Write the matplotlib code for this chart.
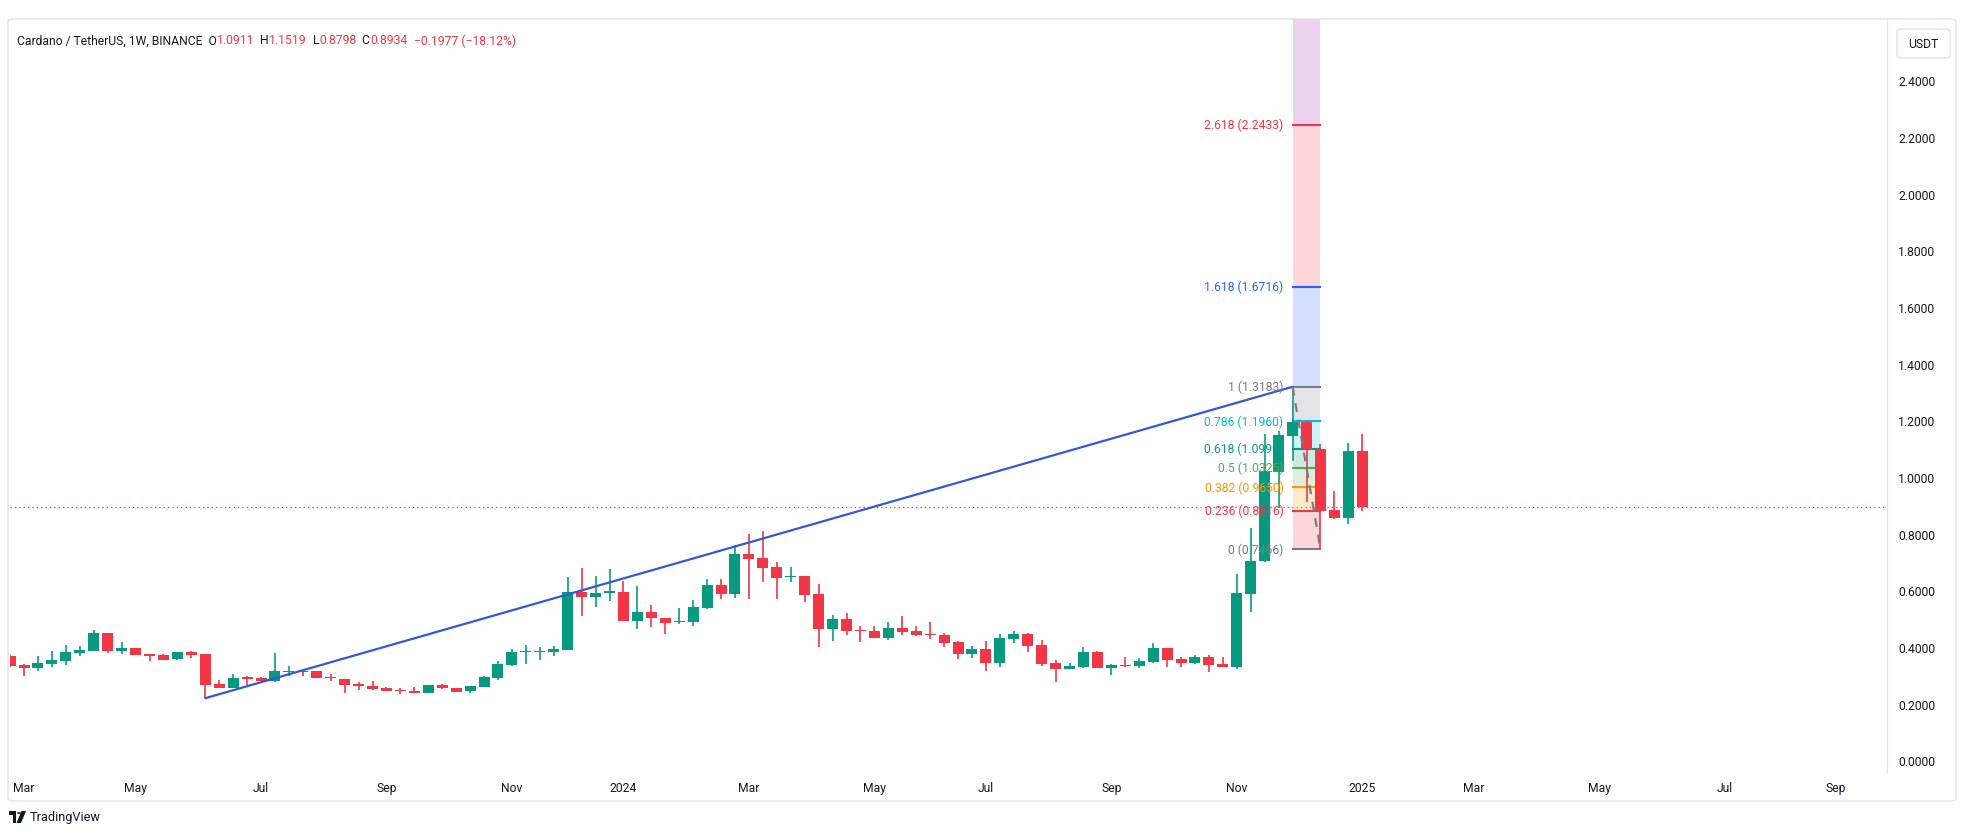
import numpy as np
import pandas as pd
import matplotlib
matplotlib.use('Agg')
import matplotlib.pyplot as plt
import matplotlib.dates as mdates
from matplotlib.patches import Rectangle, FancyBboxPatch, Polygon, Circle

# ADA/USDT weekly candles (Binance), first bar = week of 2023-02-27
week_start = '2023-02-27'
opens = [0.367, 0.337, 0.327, 0.341, 0.352, 0.380, 0.387, 0.450, 0.387, 0.396,
         0.375, 0.372, 0.357, 0.381, 0.375, 0.270, 0.257, 0.294, 0.292, 0.281,
         0.311, 0.317, 0.316, 0.292, 0.287, 0.271, 0.262, 0.255, 0.247, 0.245,
         0.239, 0.267, 0.255, 0.246, 0.260, 0.292, 0.338, 0.381, 0.382, 0.384,
         0.391, 0.594, 0.578, 0.592, 0.594, 0.493, 0.523, 0.502, 0.488, 0.489,
         0.539, 0.619, 0.588, 0.728, 0.714, 0.682, 0.647, 0.651, 0.587, 0.465,
         0.499, 0.460, 0.456, 0.432, 0.467, 0.457, 0.447, 0.443, 0.418, 0.377,
         0.393, 0.345, 0.428, 0.446, 0.407, 0.344, 0.323, 0.330, 0.384, 0.326,
         0.338, 0.334, 0.347, 0.397, 0.358, 0.344, 0.365, 0.340, 0.331, 0.588,
         0.703, 1.019, 1.146, 1.195, 1.099, 0.884, 0.856, 1.0911]
highs = [0.372, 0.340, 0.367, 0.385, 0.406, 0.403, 0.459, 0.450, 0.417, 0.398,
         0.377, 0.375, 0.382, 0.386, 0.377, 0.285, 0.305, 0.297, 0.296, 0.379,
         0.332, 0.318, 0.317, 0.304, 0.288, 0.276, 0.279, 0.258, 0.257, 0.259,
         0.267, 0.271, 0.257, 0.264, 0.298, 0.350, 0.392, 0.407, 0.401, 0.405,
         0.647, 0.679, 0.650, 0.675, 0.634, 0.614, 0.548, 0.503, 0.538, 0.566,
         0.640, 0.640, 0.761, 0.799, 0.809, 0.700, 0.681, 0.652, 0.622, 0.513,
         0.520, 0.475, 0.474, 0.488, 0.510, 0.474, 0.488, 0.449, 0.421, 0.405,
         0.421, 0.446, 0.458, 0.450, 0.425, 0.354, 0.343, 0.400, 0.387, 0.340,
         0.365, 0.361, 0.414, 0.397, 0.366, 0.372, 0.372, 0.365, 0.658, 0.819,
         1.151, 1.162, 1.3183, 1.196, 1.117, 0.950, 1.119, 1.1519]
lows = [0.330, 0.299, 0.317, 0.331, 0.338, 0.369, 0.385, 0.380, 0.375, 0.371,
        0.350, 0.354, 0.356, 0.362, 0.221, 0.254, 0.254, 0.266, 0.279, 0.278,
        0.299, 0.299, 0.289, 0.281, 0.239, 0.250, 0.250, 0.244, 0.235, 0.238,
        0.238, 0.252, 0.242, 0.239, 0.259, 0.285, 0.334, 0.340, 0.355, 0.369,
        0.390, 0.511, 0.542, 0.562, 0.491, 0.465, 0.472, 0.447, 0.482, 0.473,
        0.533, 0.568, 0.573, 0.571, 0.630, 0.571, 0.631, 0.560, 0.401, 0.422,
        0.444, 0.419, 0.432, 0.426, 0.444, 0.439, 0.427, 0.401, 0.359, 0.361,
        0.317, 0.331, 0.415, 0.383, 0.334, 0.278, 0.321, 0.327, 0.325, 0.301,
        0.331, 0.327, 0.344, 0.331, 0.331, 0.341, 0.313, 0.330, 0.321, 0.523,
        0.700, 0.891, 1.058, 0.911, 0.7466, 0.851, 0.833, 0.8798]
closes = [0.334, 0.327, 0.344, 0.355, 0.383, 0.391, 0.450, 0.387, 0.398, 0.373,
          0.369, 0.355, 0.381, 0.373, 0.266, 0.257, 0.291, 0.288, 0.281, 0.314,
          0.313, 0.313, 0.290, 0.290, 0.267, 0.262, 0.253, 0.246, 0.245, 0.239,
          0.266, 0.254, 0.243, 0.263, 0.293, 0.340, 0.381, 0.384, 0.385, 0.393,
          0.594, 0.578, 0.591, 0.597, 0.493, 0.523, 0.501, 0.486, 0.492, 0.541,
          0.619, 0.588, 0.728, 0.711, 0.679, 0.644, 0.652, 0.585, 0.465, 0.499,
          0.458, 0.457, 0.433, 0.467, 0.454, 0.444, 0.444, 0.415, 0.377, 0.393,
          0.345, 0.432, 0.446, 0.405, 0.341, 0.324, 0.334, 0.384, 0.326, 0.338,
          0.333, 0.351, 0.397, 0.355, 0.345, 0.365, 0.338, 0.331, 0.591, 0.703,
          1.020, 1.147, 1.195, 1.099, 0.880, 0.856, 1.092, 0.8934]

# drawings (bar index, price)
trend_idx = [14, 92]
trend_price = [0.2195, 1.3183]
fib_idx = [92, 94]
fib_levels = ['0', '0.236', '0.382', '0.5', '0.618', '0.786', '1', '1.618', '2.618', '3.618']
fib_prices = [0.7466, 0.8816, 0.9650, 1.0325, 1.0999, 1.1960, 1.3183, 1.6716, 2.2433, 2.8150]
fib_colors = ['#787B86', '#F23645', '#FF9800', '#4CAF50', '#089981', '#00BCD4',
              '#787B86', '#2962FF', '#F23645', '#9C27B0']
last_close = 0.8934
price_ticks = [0.0, 0.2, 0.4, 0.6, 0.8, 1.0, 1.2, 1.4, 1.6, 1.8, 2.0, 2.2, 2.4]

UP = '#089981'
DOWN = '#F23645'
TXT = '#131722'
BORDER = '#E0E3EB'
FONT = 'Roboto'
FS = 8.7

W, H = 1964, 837
plt.rcParams['font.family'] = [FONT, 'DejaVu Sans']
fig = plt.figure(figsize=(W / 100, H / 100), dpi=100)
fig.patch.set_facecolor('white')

# plot area in pixels
pl, pr, pt, pb = 10, 1887, 20, 774
ax = fig.add_axes([pl / W, 1 - pb / H, (pr - pl) / W, (pb - pt) / H])

dates = pd.date_range(week_start, periods=len(opens), freq='7D')
xn = mdates.date2num(dates)
px_per_day = 13.94 / 7
x0 = 10.1  # pixel of first bar
ax.set_xlim(xn[0] - (x0 - pl) / px_per_day, xn[0] + (pr - x0) / px_per_day)
y_zero, px_per_unit = 761.4, 283.4
ax.set_ylim((y_zero - pb) / px_per_unit, (y_zero - pt) / px_per_unit)

o = np.array(opens); h = np.array(highs); l = np.array(lows); c = np.array(closes)
cols = np.where(c >= o, UP, DOWN)
body_w = 11 / px_per_day
ax.vlines(xn, l, h, colors=cols, lw=1.2, zorder=3)
bot = np.minimum(o, c)
hgt = np.maximum(np.abs(c - o), 0.0035)
ax.bar(xn, hgt, bottom=bot, width=body_w, color=cols, edgecolor='none', zorder=4)

# trend line
ax.plot(xn[trend_idx], trend_price, color='#3259D6', lw=1.6, zorder=5, solid_capstyle='round')

# fib retracement
fx0, fx1 = xn[fib_idx[0]], xn[fib_idx[1]]
for k in range(len(fib_prices) - 1):
    ax.add_patch(Rectangle((fx0, fib_prices[k]), fx1 - fx0, fib_prices[k + 1] - fib_prices[k],
                           facecolor=fib_colors[k + 1], alpha=0.2, edgecolor='none', zorder=2))
ylo, yhi = ax.get_ylim()
for lvl, p, col in zip(fib_levels, fib_prices, fib_colors):
    if p > yhi:
        continue
    ax.plot([fx0, fx1], [p, p], color=col, lw=1.5, zorder=2.5)
    ax.annotate(f'{lvl} ({p:.4f})', (fx0, p), xytext=(-6.5, 0), textcoords='offset points',
                ha='right', va='center', color=col, fontsize=FS, zorder=6)
ax.plot([fx0, fx1], [fib_prices[6], fib_prices[0]], color='#787B86', lw=1.6,
        ls=(0, (4, 3.5)), zorder=5)

# last price line
ax.axhline(last_close, color=DOWN, lw=0.9, ls=(0, (1, 2.5)), zorder=1)

# axes styling
for s in ['top', 'left', 'bottom']:
    ax.spines[s].set_visible(False)
ax.spines['right'].set_color(BORDER)
ax.yaxis.tick_right()
ax.set_yticks(price_ticks)
ax.set_yticklabels([f'{v:.4f}' for v in price_ticks])
ax.tick_params(axis='y', length=0, pad=8, labelsize=FS, labelcolor=TXT)

ticks = pd.date_range('2023-03-01', '2025-10-01', freq='WOM-1MON')
ticks = [t for t in ticks if t.month % 2 == 1]
ax.set_xticks(mdates.date2num(ticks))
ax.set_xticklabels([str(t.year) if t.month == 1 else t.strftime('%b') for t in ticks])
ax.tick_params(axis='x', length=0, pad=6, labelsize=FS, labelcolor=TXT)


def fx(px):
    return px / W


def fy(py):
    return 1 - py / H


# outer frame
fig.patches.append(FancyBboxPatch((fx(8), fy(802)), fx(1956 - 8), (802 - 20) / H,
                                  boxstyle='round,pad=0,rounding_size=0.003',
                                  transform=fig.transFigure, fill=False,
                                  edgecolor=BORDER, lw=1.0))

# currency box
fig.patches.append(FancyBboxPatch((fx(1897), fy(59)), fx(53), 29 / H,
                                  boxstyle='round,pad=0,rounding_size=0.003',
                                  transform=fig.transFigure, facecolor='white',
                                  edgecolor=BORDER, lw=1.0))
fig.text(fx(1923.5), fy(44.5), 'USDT', ha='center', va='center', fontsize=FS, color=TXT)

# legend header
parts = [('Cardano / TetherUS, 1W, BINANCE  O', TXT), ('1.0911', DOWN), ('  H', TXT),
         ('1.1519', DOWN), ('  L', TXT), ('0.8798', DOWN), ('  C', TXT), ('0.8934', DOWN),
         ('  \u22120.1977 (\u221218.12%)', DOWN)]
prev = fig.text(fx(17), fy(41), parts[0][0], ha='left', va='center', fontsize=FS, color=parts[0][1])
for txt, col in parts[1:]:
    prev = plt.annotate(txt, xy=(1, 0.5), xycoords=prev, ha='left', va='center',
                        fontsize=FS, color=col, annotation_clip=False)

# TradingView logo
fig.patches.append(Rectangle((fx(9), fy(816)), fx(7), 4 / H, transform=fig.transFigure,
                             color=TXT, lw=0))
fig.patches.append(Rectangle((fx(12.5), fy(824)), fx(3.5), 12 / H, transform=fig.transFigure,
                             color=TXT, lw=0))
fig.patches.append(Circle((fx(19), fy(814)), 2 / W, transform=fig.transFigure, color=TXT, lw=0))
fig.patches.append(Polygon([(fx(21.5), fy(812)), (fx(26), fy(812)), (fx(21), fy(824)), (fx(16.5), fy(824))],
                           transform=fig.transFigure, color=TXT, lw=0))
fig.text(fx(30), fy(818), 'TradingView', ha='left', va='center', fontsize=9.2, color=TXT)

fig.savefig('out.png', dpi=100, facecolor='white')
